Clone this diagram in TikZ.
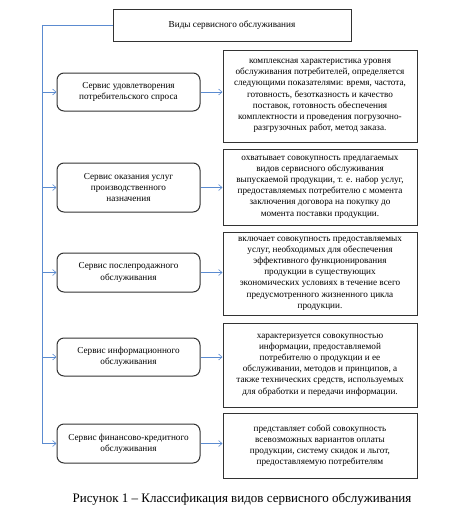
\documentclass[tikz,border=0pt]{standalone}
\usepackage{fontspec}
\setmainfont{Liberation Serif}
\usetikzlibrary{arrows.meta}
\definecolor{linkblue}{HTML}{5B8BD0}
\definecolor{boxgray}{HTML}{333333}
\begin{document}
\begin{tikzpicture}[x=1pt, y=-1pt,
    every node/.style={font=\fontsize{9.2}{11.2}\selectfont, align=center, inner sep=0pt},
    titlebox/.style={draw=boxgray, line width=1pt, minimum width=238pt, minimum height=32pt},
    kindbox/.style={draw=boxgray, line width=1pt, rounded corners=7pt, minimum width=143pt},
    infobox/.style={draw=boxgray, line width=1pt, minimum width=194pt},
    link/.style={linkblue, line width=0.6pt, -{Straight Barb[length=3.5pt, width=6pt]}}]
    \useasboundingbox (0,0) rectangle (460,517);
    \node[titlebox] (title) at (232,25) {Виды сервисного обслуживания};
    % left column
    \node[kindbox, minimum height=38pt] (k1) at (128.5,92) {Сервис удовлетворения\\потребительского спроса};
    \node[kindbox, minimum height=49pt] (k2) at (128.5,187.5) {Сервис оказания услуг\\производственного\\назначения};
    \node[kindbox, minimum height=39pt] (k3) at (128.5,272.5) {Сервис послепродажного\\обслуживания};
    \node[kindbox, minimum height=38pt] (k4) at (128.5,357) {Сервис информационного\\обслуживания};
    \node[kindbox, minimum height=39pt] (k5) at (128.5,443.5) {Сервис финансово-кредитного\\обслуживания};
    % right column
    \node[infobox, minimum height=92pt] (r1) at (320,96) {комплексная характеристика уровня\\обслуживания потребителей, определяется\\следующими показателями: время, частота,\\готовность, безотказность и качество\\поставок, готовность обеспечения\\комплектности и проведения погрузочно-\\разгрузочных работ, метод заказа.};
    \node[infobox, minimum height=76pt] (r2) at (320,187) {охватывает совокупность предлагаемых\\видов сервисного обслуживания\\выпускаемой продукции, т. е. набор услуг,\\предоставляемых потребителю с момента\\заключения договора на покупку до\\момента поставки продукции.};
    \node[infobox, minimum height=83pt] (r3) at (320,273.5) {включает совокупность предоставляемых\\услуг, необходимых для обеспечения\\эффективного функционирования\\продукции в существующих\\экономических условиях в течение всего\\предусмотренного жизненного цикла\\продукции.};
    \node[infobox, minimum height=84pt] (r4) at (320,365) {характеризуется совокупностью\\информации, предоставляемой\\потребителю о продукции и ее\\обслуживании, методов и принципов, а\\также технических средств, используемых\\для обработки и передачи информации.};
    \node[infobox, minimum height=65pt] (r5) at (320,445.5) {представляет собой совокупность\\всевозможных вариантов оплаты\\продукции, систему скидок и льгот,\\предоставляемую потребителям};
    \coordinate (trunk) at (42,25);
    \draw[linkblue, line width=0.6pt] (title.west) -- (trunk);
    \foreach \k in {1,...,5} {
        \draw[link] (trunk) |- (k\k.west);
        \draw[link] (k\k.east) -- (k\k.east -| r\k.west);
    }
    \node[font=\fontsize{13}{15}\selectfont] (caption) at (242,499) {Рисунок 1 – Классификация видов сервисного обслуживания};
\end{tikzpicture}
\end{document}
